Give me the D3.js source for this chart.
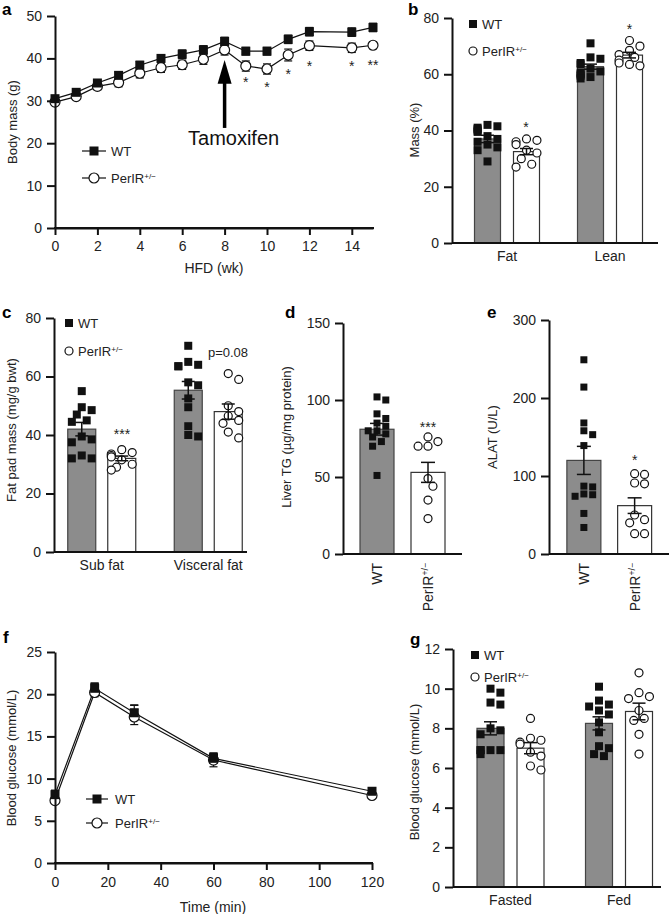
<!DOCTYPE html>
<html><head><meta charset="utf-8">
<script src="https://cdn.jsdelivr.net/npm/d3@7"></script>
<style>body{margin:0;background:#fff}svg{display:block}</style></head>
<body><svg id="c" width="669" height="914"></svg>
<script>
// ---------- Panel a: body mass ----------
const aWeeks=[0,1,2,3,4,5,6,7,8,9,10,11,12,14,15];
const aWT=[30.5,32,34.2,36,38.4,40,41,42,44,41.7,41.7,44.5,46.3,46.2,47.3];
const aWTerr=[0.6,0.6,0.7,0.8,0.9,0.9,1,1,1,0.9,0.9,1,1,1,1];
const aKO=[29.7,31,33.4,34.3,36.5,37.8,38.5,39.8,42,38.2,37.5,40.8,43,42.5,43.1];
const aKOerr=[0.6,0.7,0.8,1,1.1,1.1,1.1,1.2,1.2,1.2,1.2,1.4,1.1,1.1,0.8];
const aStarWeeks=[9,10,11,12,14,15];
const aStarLabels=["*","*","*","*","*","**"];
const aStarY=[34.9,33.7,36.8,38.7,38.7,38.9];
const aXTicks=[0,2,4,6,8,10,12,14];
const aYTicks=[0,10,20,30,40,50];

// ---------- Panel b: body composition ----------
const bCats=["Fat","Lean"];
const bWTmean=[37,62.7], bWTsem=[1.3,0.9];
const bKOmean=[32.5,66.8], bKOsem=[1.1,1.0];
const bWTdots=[[42,41.5,41,40.5,40,39.5,38,37,36,35,34,33,29],[71,66,65.5,64,63.5,62,61,60.5,60,59.5,59,58.5]];
const bKOdots=[[37,36.5,36,35,33,32,30,28,27],[72,70,68.5,67,66,65,64,63.5,63]];
const bYTicks=[0,20,40,60,80];

// ---------- Panel c: fat pads ----------
const cCats=["Sub fat","Visceral fat"];
const cWTmean=[42,55.3], cWTsem=[2.3,3.0];
const cKOmean=[32,48], cKOsem=[0.8,2.6];
const cWTdots=[[55,49.5,48.5,47,45,44.5,39.5,38.5,37.5,33,32,32],[70.5,65,64,63.5,63.5,58,57,52.5,49.5,43,40,39.5]];
const cKOdots=[[35,34,33.5,33,32.5,31.5,30,29,28],[61,59,50,48,46.5,45,44,41,39]];
const cYTicks=[0,20,40,60,80];

// ---------- Panel d: liver TG ----------
const dGroups=["WT","PerIR"];
const dMean=[81,53], dSem=[3.8,6.5];
const dDots=[[102,100,91,88,85,83,80,80,78,76,73,70,51],[76,73,70,70,49,44,35,23]];
const dYTicks=[0,50,100,150];

// ---------- Panel e: ALAT ----------
const eGroups=["WT","PerIR"];
const eMean=[120,62], eSem=[18,10];
const eDots=[[249,214,168,158,153,139,87,86,77,76,74,52,34],[103,102,91,90,50,44,40,26,26]];
const eYTicks=[0,100,200,300];

// ---------- Panel f: GTT ----------
const fTime=[0,15,30,60,120];
const fWT=[8.1,20.7,17.8,12.4,8.5], fWTerr=[0.5,0.6,0.9,0.6,0.3];
const fKO=[7.4,20.2,17.3,12.2,8.0], fKOerr=[0.3,0.5,0.9,0.8,0.3];
const fXTicks=[0,20,40,60,80,100,120];
const fYTicks=[0,5,10,15,20,25];

// ---------- Panel g: blood glucose ----------
const gCats=["Fasted","Fed"];
const gWTmean=[8.0,8.25], gWTsem=[0.33,0.33];
const gKOmean=[7.0,8.85], gKOsem=[0.28,0.42];
const gWTdots=[[10,9.8,9.3,9.2,8.0,7.9,7.7,6.9,6.9,6.9,6.9,6.7],[10.1,9.4,9.2,9.1,8.9,8.7,8.3,7.8,7.1,7.0,6.7,6.6]];
const gKOdots=[[8.5,7.5,7.4,7.3,7.2,6.8,6.6,6.1,5.9],[10.8,9.8,9.6,9.5,8.9,8.5,8.4,7.7,6.7]];
const gYTicks=[0,2,4,6,8,10,12];

const FONT="'Liberation Sans', Arial, Helvetica, sans-serif";
const GREY="#8c8c8c";
const TICKFS=14;
const svg=d3.select("#c").style("font-family",FONT);
svg.append("rect").attr("width",669).attr("height",914).attr("fill","#fff");

function styleAxis(g){
  g.select(".domain").attr("stroke","#111").attr("stroke-width",2);
  g.selectAll(".tick line").attr("stroke","#111").attr("stroke-width",2);
  g.selectAll(".tick text").attr("font-size",TICKFS).attr("fill","#222").attr("font-family",FONT);
}
function yAxis(scale,ticks,x){
  const g=svg.append("g").attr("transform",`translate(${x},0)`)
    .call(d3.axisLeft(scale).tickValues(ticks).tickSize(8).tickSizeOuter(0).tickPadding(5));
  styleAxis(g); return g;
}
function yTitle(text,x,yc){
  svg.append("text").attr("transform",`translate(${x},${yc}) rotate(-90)`)
    .attr("text-anchor","middle").attr("font-size",13).attr("fill","#222").text(text);
}
function panelLetter(t,x,y){
  svg.append("text").attr("x",x).attr("y",y).attr("font-size",17).attr("font-weight","bold").attr("fill","#000").text(t);
}
function square(g,x,y,s){
  g.append("rect").attr("x",x-s/2).attr("y",y-s/2).attr("width",s).attr("height",s).attr("fill","#111");
}
function circle(g,x,y,r){
  g.append("circle").attr("cx",x).attr("cy",y).attr("r",r).attr("fill","#fff").attr("stroke","#111").attr("stroke-width",1.2);
}
function koLabel(sel,fs){
  sel.text("PerIR");
  sel.append("tspan").attr("baseline-shift","super").attr("font-size",fs*0.62).text("+/\u2212");
}
function errBar(g,x,y1,y2,cw,sw){
  g.append("line").attr("x1",x).attr("x2",x).attr("y1",y1).attr("y2",y2).attr("stroke","#111").attr("stroke-width",sw);
  g.append("line").attr("x1",x-cw/2).attr("x2",x+cw/2).attr("y1",y1).attr("y2",y1).attr("stroke","#111").attr("stroke-width",sw);
  g.append("line").attr("x1",x-cw/2).attr("x2",x+cw/2).attr("y1",y2).attr("y2",y2).attr("stroke","#111").attr("stroke-width",sw);
}
// deterministic swarm layout of the dots inside a bar
function swarm(vals,y,cx,minD,maxHalf){
  const placed=[];
  const sorted=vals.slice().sort((a,b)=>b-a);
  sorted.forEach(v=>{
    const py=y(v);
    let px=cx;
    for(let k=0;k<20;k++){
      const off=(k===0?0:(k%2?1:-1)*Math.ceil(k/2))*minD*0.55;
      const cand=cx+off;
      if(Math.abs(off)>maxHalf) continue;
      if(placed.every(p=>Math.hypot(p[0]-cand,p[1]-py)>=minD*0.92)){px=cand;break;}
      px=cand;
    }
    placed.push([px,py]);
  });
  return placed;
}
function bar(g,xc,w,y,mean,filled){
  g.append("rect").attr("x",xc-w/2).attr("y",y(mean)).attr("width",w).attr("height",y(0)-y(mean))
    .attr("fill",filled?GREY:"#fff").attr("stroke",filled?"#444":"#333").attr("stroke-width",1.2);
}
function star(g,x,yc,t){
  g.append("text").attr("x",x).attr("y",yc+7).attr("text-anchor","middle").attr("font-size",14).attr("fill","#222").text(t);
}
function barLegend(x,y1,y2){
  const g=svg.append("g");
  square(g,x,y1,8); circle(g,x,y2,4);
  g.append("text").attr("x",x+9).attr("y",y1+5).attr("font-size",13).attr("fill","#222").text("WT");
  koLabel(g.append("text").attr("x",x+9).attr("y",y2+5).attr("font-size",13).attr("fill","#222"),13);
}

// grouped bar panel (b, c, g)
function groupedPanel(o){
  const y=d3.scaleLinear().domain([0,o.max]).range([o.yBot,o.yTop]);
  const xb=d3.scaleBand().domain(o.cats).range(o.bandRange);
  const g=svg.append("g");
  o.cats.forEach((c,i)=>{
    const cx=xb(c)+xb.bandwidth()/2;
    const xw=cx-o.off, xk=cx+o.off;
    bar(g,xw,o.bw,y,o.wtMean[i],true);
    bar(g,xk,o.bw,y,o.koMean[i],false);
    swarm(o.wtDots[i],y,xw,o.ds+1,o.bw/2-2).forEach(p=>square(g,p[0],p[1],o.ds));
    swarm(o.koDots[i],y,xk,o.ds+1.5,o.bw/2-2).forEach(p=>circle(g,p[0],p[1],o.ds/2));
    errBar(g,xw,y(o.wtMean[i]+o.wtSem[i]),y(o.wtMean[i]-o.wtSem[i]),13,1.5);
    errBar(g,xk,y(o.koMean[i]+o.koSem[i]),y(o.koMean[i]-o.koSem[i]),13,1.5);
  });
  svg.append("line").attr("x1",o.x0).attr("x2",o.x1).attr("y1",o.yBot).attr("y2",o.yBot).attr("stroke","#111").attr("stroke-width",2);
  const xa=svg.append("g").attr("transform",`translate(0,${o.yBot})`).call(d3.axisBottom(xb).tickSize(0).tickPadding(8));
  xa.select(".domain").remove();
  xa.selectAll(".tick text").attr("font-size",TICKFS).attr("fill","#222").attr("font-family",FONT);
  yAxis(y,o.ticks,o.x0);
  return {y,xb,g};
}
// two-bar panel (d, e)
function pairPanel(o){
  const y=d3.scaleLinear().domain([0,o.max]).range([o.yBot,o.yTop]);
  const xb=d3.scaleBand().domain(o.groups).range(o.bandRange);
  const g=svg.append("g");
  o.groups.forEach((gr,i)=>{
    const cx=xb(gr)+xb.bandwidth()/2;
    bar(g,cx,o.bw,y,o.mean[i],i===0);
    if(i===0) swarm(o.dots[i],y,cx,o.ds+1,o.bw/2-2).forEach(p=>square(g,p[0],p[1],o.ds));
    else swarm(o.dots[i],y,cx,o.ds+2,o.bw/2-1).forEach(p=>circle(g,p[0],p[1],o.ds/2+0.5));
    errBar(g,cx,y(o.mean[i]+o.sem[i]),y(o.mean[i]-o.sem[i]),14,1.5);
    const t=svg.append("text").attr("transform",`translate(${cx+5},${o.yBot+9}) rotate(-90)`)
      .attr("text-anchor","end").attr("font-size",TICKFS).attr("fill","#222");
    if(i===0) t.text("WT"); else koLabel(t,TICKFS);
  });
  svg.append("line").attr("x1",o.x0).attr("x2",o.x1).attr("y1",o.yBot).attr("y2",o.yBot).attr("stroke","#111").attr("stroke-width",2);
  yAxis(y,o.ticks,o.x0);
  return {y,xb,g};
}

// ===== Panel a =====
(function(){
  const x=d3.scaleLinear().domain([0,15]).range([55,373]);
  const y=d3.scaleLinear().domain([0,50]).range([228,16]);
  const g=svg.append("g");
  const line=d3.line().x((d,i)=>x(aWeeks[i])).y(d=>y(d));
  g.append("path").datum(aWT).attr("d",line).attr("fill","none").attr("stroke","#111").attr("stroke-width",1.2);
  g.append("path").datum(aKO).attr("d",line).attr("fill","none").attr("stroke","#111").attr("stroke-width",1.2);
  aWeeks.forEach((w,i)=>{
    errBar(g,x(w),y(aKO[i]+aKOerr[i]),y(aKO[i]-aKOerr[i]),8,1.2);
    errBar(g,x(w),y(aWT[i]+aWTerr[i]),y(aWT[i]-aWTerr[i]),8,1.2);
  });
  aWeeks.forEach((w,i)=>{ circle(g,x(w),y(aKO[i]),5); square(g,x(w),y(aWT[i]),9); });
  aStarWeeks.forEach((w,i)=>star(g,x(w),y(aStarY[i]),aStarLabels[i]));
  // Tamoxifen arrow
  g.append("line").attr("x1",x(8)).attr("x2",x(8)).attr("y1",y(23.6)).attr("y2",y(35)).attr("stroke","#000").attr("stroke-width",3.5);
  g.append("path").attr("d",`M${x(8)-7},${y(34)} L${x(8)+7},${y(34)} L${x(8)},${y(39.6)} Z`).attr("fill","#000");
  g.append("text").attr("x",x(8)+9).attr("y",y(19.6)).attr("text-anchor","middle").attr("font-size",20).attr("fill","#111").text("Tamoxifen");
  const ax=svg.append("g").attr("transform","translate(0,228)")
    .call(d3.axisBottom(x).tickValues(aXTicks).tickSize(7).tickSizeOuter(0).tickPadding(6));
  styleAxis(ax);
  svg.append("line").attr("x1",54).attr("x2",374).attr("y1",228).attr("y2",228).attr("stroke","#111").attr("stroke-width",2);
  yAxis(y,aYTicks,55);
  svg.append("text").attr("x",214).attr("y",273).attr("text-anchor","middle").attr("font-size",14).attr("fill","#222").text("HFD (wk)");
  yTitle("Body mass (g)",17,122);
  // legend
  const lg=svg.append("g");
  lg.append("line").attr("x1",82).attr("x2",106).attr("y1",151).attr("y2",151).attr("stroke","#111").attr("stroke-width",1.2);
  square(lg,94,151,9);
  lg.append("text").attr("x",111).attr("y",156).attr("font-size",13).attr("fill","#222").text("WT");
  lg.append("line").attr("x1",82).attr("x2",106).attr("y1",178).attr("y2",178).attr("stroke","#111").attr("stroke-width",1.2);
  circle(lg,94,178,5);
  koLabel(lg.append("text").attr("x",111).attr("y",183).attr("font-size",13).attr("fill","#222"),13);
  panelLetter("a",2,15);
})();

// ===== Panel b =====
(function(){
  const r=groupedPanel({cats:bCats,wtMean:bWTmean,wtSem:bWTsem,koMean:bKOmean,koSem:bKOsem,wtDots:bWTdots,koDots:bKOdots,
    max:80,ticks:bYTicks,yTop:18,yBot:243,x0:452,x1:658,bandRange:[455.5,661.5],off:19.5,bw:26,ds:8});
  star(r.g,526,r.y(42),"*"); star(r.g,629.5,r.y(76.8),"*");
  barLegend(473,24,51);
  yTitle("Mass (%)",419,130);
  panelLetter("b",408,15);
})();

// ===== Panel c =====
(function(){
  const r=groupedPanel({cats:cCats,wtMean:cWTmean,wtSem:cWTsem,koMean:cKOmean,koSem:cKOsem,wtDots:cWTdots,koDots:cKOdots,
    max:80,ticks:cYTicks,yTop:318,yBot:552,x0:54,x1:247,bandRange:[48.5,261.5],off:20,bw:28,ds:8});
  star(r.g,122,r.y(41),"***");
  r.g.append("text").attr("x",228).attr("y",r.y(68.4)+5).attr("text-anchor","middle").attr("font-size",13).attr("fill","#222").text("p=0.08");
  barLegend(69,323,351);
  yTitle("Fat pad mass (mg/g bwt)",16,430);
  panelLetter("c",2,318);
})();

// ===== Panel d =====
(function(){
  const r=pairPanel({groups:dGroups,mean:dMean,sem:dSem,dots:dDots,max:150,ticks:dYTicks,yTop:323,yBot:554,x0:343,x1:462,
    bandRange:[351.5,453.5],bw:34,ds:7});
  star(r.g,r.xb("PerIR")+r.xb.bandwidth()/2,r.y(83.8),"***");
  yTitle("Liver TG (\u00b5g/mg protein)",291,437);
  panelLetter("d",285,318);
})();

// ===== Panel e =====
(function(){
  const r=pairPanel({groups:eGroups,mean:eMean,sem:eSem,dots:eDots,max:300,ticks:eYTicks,yTop:320,yBot:554,x0:549,x1:669,
    bandRange:[558.5,660],bw:34,ds:7});
  star(r.g,r.xb("PerIR")+r.xb.bandwidth()/2,r.y(123),"*");
  yTitle("ALAT (U/L)",497,437);
  panelLetter("e",487,318);
})();

// ===== Panel f =====
(function(){
  const x=d3.scaleLinear().domain([0,120]).range([55,372]);
  const y=d3.scaleLinear().domain([0,25]).range([863,652]);
  const g=svg.append("g");
  const line=d3.line().x((d,i)=>x(fTime[i])).y(d=>y(d));
  g.append("path").datum(fKO).attr("d",line).attr("fill","none").attr("stroke","#111").attr("stroke-width",1.2);
  g.append("path").datum(fWT).attr("d",line).attr("fill","none").attr("stroke","#111").attr("stroke-width",1.2);
  fTime.forEach((t,i)=>{
    errBar(g,x(t),y(fKO[i]+fKOerr[i]),y(fKO[i]-fKOerr[i]),8,1.2);
    errBar(g,x(t),y(fWT[i]+fWTerr[i]),y(fWT[i]-fWTerr[i]),8,1.2);
  });
  fTime.forEach((t,i)=>{ circle(g,x(t),y(fKO[i]),5); square(g,x(t),y(fWT[i]),9); });
  fTime.forEach((t,i)=>{ errBar(g,x(t),y(fWT[i]+fWTerr[i]),y(fWT[i]+fWTerr[i]),8,1.2); });
  const ax=svg.append("g").attr("transform","translate(0,863)")
    .call(d3.axisBottom(x).tickValues(fXTicks).tickSize(7).tickSizeOuter(0).tickPadding(7));
  styleAxis(ax);
  svg.append("line").attr("x1",54).attr("x2",373).attr("y1",863).attr("y2",863).attr("stroke","#111").attr("stroke-width",2);
  yAxis(y,fYTicks,55);
  svg.append("text").attr("x",213).attr("y",912).attr("text-anchor","middle").attr("font-size",14).attr("fill","#222").text("Time (min)");
  yTitle("Blood glucose (mmol/L)",16,758);
  const lg=svg.append("g");
  lg.append("line").attr("x1",86).attr("x2",108).attr("y1",799).attr("y2",799).attr("stroke","#111").attr("stroke-width",1.2);
  square(lg,97,799,9);
  lg.append("text").attr("x",115).attr("y",804).attr("font-size",13).attr("fill","#222").text("WT");
  lg.append("line").attr("x1",86).attr("x2",108).attr("y1",823).attr("y2",823).attr("stroke","#111").attr("stroke-width",1.2);
  circle(lg,97,823,5);
  koLabel(lg.append("text").attr("x",115).attr("y",828).attr("font-size",13).attr("fill","#222"),13);
  panelLetter("f",3,643);
})();

// ===== Panel g =====
(function(){
  groupedPanel({cats:gCats,wtMean:gWTmean,wtSem:gWTsem,koMean:gKOmean,koSem:gKOsem,wtDots:gWTdots,koDots:gKOdots,
    max:12,ticks:gYTicks,yTop:649,yBot:887,x0:453,x1:661,bandRange:[456.25,673.25],off:20,bw:27,ds:8});
  barLegend(475,655,677);
  yTitle("Blood glucose (mmol/L)",419,772);
  panelLetter("g",410,645);
})();
</script></body></html>
